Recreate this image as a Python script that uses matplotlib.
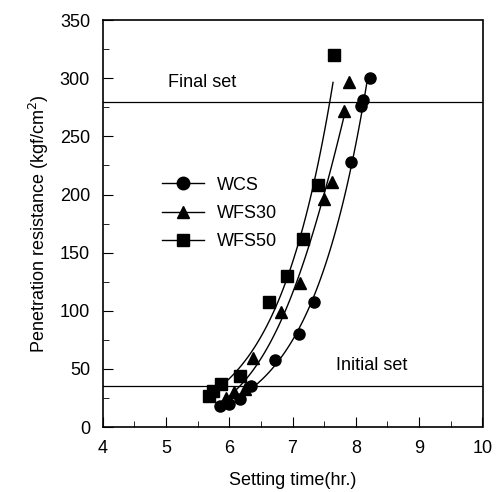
import numpy as np
import matplotlib
matplotlib.use("Agg")
import matplotlib.pyplot as plt
from matplotlib.ticker import MultipleLocator

plt.rcParams['font.family'] = ['Liberation Sans', 'DejaVu Sans']

# data
wcs_x = [5.85, 6.0, 6.17, 6.35, 6.72, 7.10, 7.34, 7.92, 8.08, 8.12, 8.22]
wcs_y = [18, 20, 24, 35, 58, 80, 108, 228, 276, 281, 300]
wfs30_x = [5.95, 6.08, 6.25, 6.37, 6.82, 7.12, 7.49, 7.62, 7.81, 7.89]
wfs30_y = [25, 30, 33, 59, 99, 124, 196, 211, 272, 297]
wfs50_x = [5.68, 5.75, 5.87, 6.17, 6.63, 6.92, 7.17, 7.40, 7.65]
wfs50_y = [27, 31, 37, 44, 108, 130, 162, 208, 320]

series = [("WCS", wcs_x, wcs_y, "o"),
          ("WFS30", wfs30_x, wfs30_y, "^"),
          ("WFS50", wfs50_x, wfs50_y, "s")]
curve_start = [6.15, 5.95, 5.85]
curve_end = [8.18, 7.84, 7.64]

initial_set = 35
final_set = 280

fig = plt.figure(figsize=(5.0, 4.92), dpi=100)
ax = fig.add_axes([0.205, 0.132, 0.760, 0.827])

for (name, xs, ys, mk), x0, x1 in zip(series, curve_start, curve_end):
    # trend line fitted through the points
    c = np.polyfit(xs, np.log(ys), 2)
    xx = np.linspace(x0, x1, 100)
    ax.plot(xx, np.exp(np.polyval(c, xx)), color="black", lw=1.0)
    ax.plot(xs, ys, linestyle="none", marker=mk, color="black", ms=8)
    ax.plot([], [], color="black", lw=1.0, marker=mk, ms=9, label=name)

ax.axhline(final_set, color="black", lw=0.9)
ax.axhline(initial_set, color="black", lw=0.9)
ax.text(5.03, 296, "Final set", fontsize=13, va="center", ha="left")
ax.text(7.68, 53, "Initial set", fontsize=13, va="center", ha="left")

ax.legend(loc="upper left", bbox_to_anchor=(0.115, 0.655), frameon=False,
          fontsize=13, handlelength=2.3, labelspacing=0.62, handletextpad=0.7)

ax.set_xlim(4, 10)
ax.set_ylim(0, 350)
ax.xaxis.set_major_locator(MultipleLocator(1))
ax.xaxis.set_minor_locator(MultipleLocator(0.5))
ax.yaxis.set_major_locator(MultipleLocator(50))
ax.yaxis.set_minor_locator(MultipleLocator(25))
ax.tick_params(which="both", direction="in", labelsize=13, top=False, right=False)
ax.tick_params(which="major", length=7, pad=9)
ax.tick_params(which="minor", length=4)
for s in ax.spines.values():
    s.set_linewidth(1.2)

ax.set_xlabel("Setting time(hr.)", fontsize=13, labelpad=11)
ax.set_ylabel("Penetration resistance (kgf/cm$^2$)", fontsize=13, labelpad=6)

fig.savefig("out.png", dpi=100)
